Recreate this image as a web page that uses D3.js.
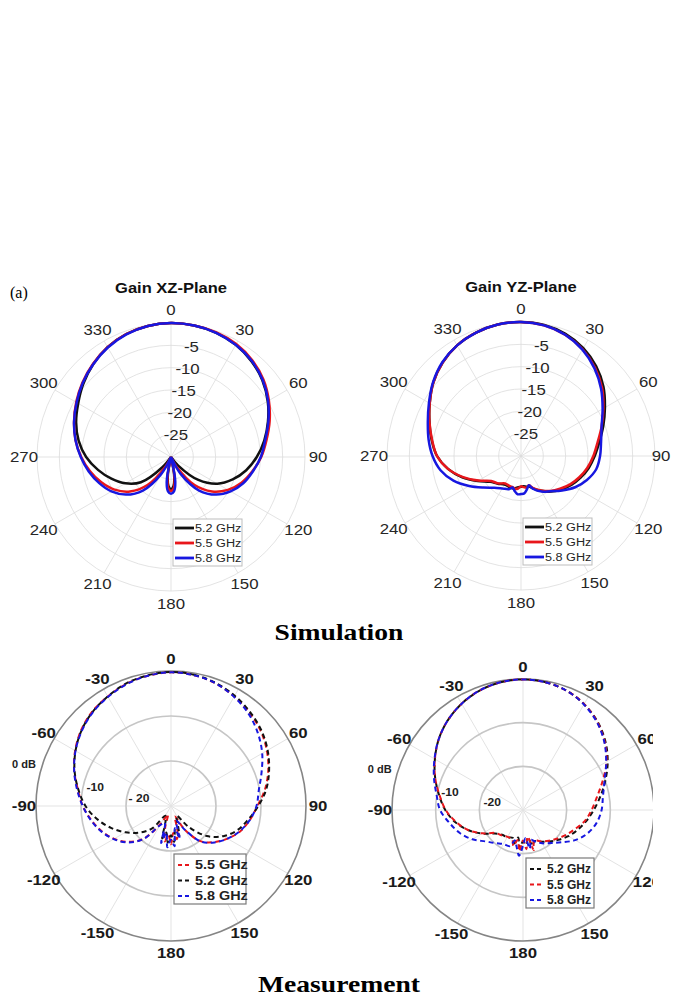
<!DOCTYPE html>
<html lang="en">
<head>
<meta charset="utf-8">
<title>Gain patterns - simulation and measurement</title>
<script src="https://d3js.org/d3.v7.min.js"></script>
<style>
    body { margin: 0; background: #fff; }
    svg text { font-family: "Liberation Sans", Arial, Helvetica, sans-serif; }
    svg text.serif { font-family: "Liberation Serif", "Times New Roman", serif; }
</style>
</head>
<body>
<div id="canvas"></div>
<script>
    // angles (deg, clockwise from top) shared by all series
    var simAngles = [0,10,20,30,40,50,60,70,80,90,100,110,120,130,140,150,160,165,170,175,180,185,190,195,200,210,220,230,240,250,260,270,280,290,300,310,320,330,340,350];
    var measAngles = [0,10,20,30,40,50,60,70,80,90,100,110,120,130,140,150,160,165,170,175,180,185,190,195,200,210,220,230,240,250,260,270,280,290,300,310,320,330,340,350];

    var simThetaLabels = ["0","30","60","90","120","150","180","210","240","270","300","330"];
    var measThetaLabels = ["0","30","60","90","120","150","180","-150","-120","-90","-60","-30"];
    var simRings = [-25,-20,-15,-10,-5,0];
    var simRingLabels = ["-25","-20","-15","-10","-5"];
    var measRings = [-20,-10];
    var measRingLabelsXZ = ["0 dB","-10","- 20"];
    var measRingLabelsYZ = ["0 dB","-10","-20"];

    // simulation, XZ plane (dB)
    var xz52 = [0,-0.1,-0.4,-1.0,-2.0,-3.3,-5.0,-6.9,-8.8,-10.8,-12.9,-15.3,-18.0,-22.0,-27.5,-33,-36,-33,-26,-23.5,-22.8,-23.5,-26,-33,-36,-33,-27,-21.2,-18.2,-15.8,-13.4,-11.0,-9.0,-7.4,-6.0,-4.4,-2.9,-1.6,-0.7,-0.2];
    var xz55 = [0,-0.1,-0.3,-0.8,-1.7,-3.0,-4.7,-6.5,-8.3,-9.8,-11.5,-13.2,-15.3,-18.0,-21.8,-27.5,-34,-33,-25.5,-23.0,-22.4,-23.0,-25.5,-33,-34,-27.5,-21.8,-18.0,-15.4,-13.4,-11.6,-9.9,-8.3,-6.9,-5.5,-4.1,-2.8,-1.6,-0.7,-0.2];
    var xz58 = [0,-0.1,-0.4,-1.0,-1.9,-3.2,-4.9,-6.8,-8.6,-9.9,-11.4,-12.8,-14.6,-16.9,-20.2,-25.5,-33,-32,-24.5,-22.3,-21.8,-22.3,-24.5,-32,-33,-25.5,-20.2,-16.9,-14.6,-12.9,-11.3,-9.8,-8.3,-6.9,-5.6,-4.2,-2.9,-1.7,-0.8,-0.2];

    // simulation, YZ plane (dB)
    var yz52 = [0,-0.2,-0.9,-2.1,-3.8,-5.9,-8.3,-10.4,-12.2,-13.5,-14.6,-15.8,-17.0,-18.3,-19.6,-21.0,-22.3,-22.9,-23.0,-23.2,-23.1,-23.0,-22.7,-22.5,-22.6,-22.6,-21.9,-21.0,-18.8,-16.0,-13.4,-11.2,-9.7,-8.2,-6.4,-4.4,-2.7,-1.4,-0.6,-0.1];
    var yz55 = [0,-0.3,-1.1,-2.4,-4.2,-6.3,-8.7,-10.8,-12.6,-13.8,-14.9,-16.1,-17.3,-18.6,-19.8,-21.1,-22.4,-23.2,-22.8,-23.0,-23.2,-22.7,-22.5,-22.8,-22.8,-22.9,-22.0,-21.3,-19.0,-16.2,-13.4,-11.2,-9.8,-8.2,-6.4,-4.4,-2.7,-1.4,-0.6,-0.1];
    var yz58 = [0,-0.3,-1.1,-2.5,-4.4,-6.6,-8.9,-10.8,-11.8,-12.3,-12.9,-14.3,-16.0,-18.0,-19.7,-20.8,-22.2,-23.2,-22.4,-21.6,-21.5,-21.4,-22.0,-22.7,-22.1,-21.6,-20.7,-19.0,-16.6,-13.9,-11.7,-10.2,-9.0,-7.8,-6.2,-4.3,-2.6,-1.4,-0.6,-0.1];

    // measurement, XZ plane (dB)
    var mxz55 = [-0.3,-0.5,-1.0,-1.9,-2.9,-4.0,-5.4,-7.0,-8.8,-10.8,-12.2,-13.6,-15.5,-17.5,-19.8,-24.0,-27.5,-24.5,-22.5,-24.0,-21.5,-23.5,-22.0,-25.0,-28.0,-25.5,-20.5,-17.6,-15.4,-13.6,-12.0,-10.4,-9.0,-7.1,-5.4,-3.9,-2.7,-1.9,-1.1,-0.6];
    var mxz52 = [-0.2,-0.4,-0.9,-1.7,-2.7,-3.8,-5.2,-6.8,-8.5,-10.6,-12.6,-14.3,-16.6,-19.6,-24.0,-27.5,-25.5,-23.0,-24.5,-22.0,-23.5,-21.8,-24.0,-22.5,-26.5,-27.5,-23.5,-20.8,-18.3,-15.8,-13.3,-11.0,-9.1,-7.2,-5.5,-4.0,-2.8,-1.9,-1.0,-0.5];
    var mxz58 = [-0.3,-0.5,-1.0,-2.0,-3.2,-4.8,-6.6,-8.6,-10.2,-11.0,-12.2,-13.7,-15.5,-17.4,-19.7,-24.0,-26.5,-22.5,-25.0,-21.0,-22.5,-20.8,-24.0,-21.5,-26.0,-25.0,-20.4,-17.4,-15.3,-13.5,-11.9,-10.4,-8.8,-7.1,-5.5,-4.1,-2.9,-2.0,-1.2,-0.6];

    // measurement, YZ plane (dB)
    var myz52 = [-0.1,-0.3,-0.9,-2.0,-3.5,-5.4,-7.6,-9.9,-12.0,-13.8,-15.3,-16.7,-18.0,-19.4,-20.6,-21.6,-22.4,-21.5,-23.5,-22.0,-22.8,-21.2,-23.6,-22.0,-23.2,-22.8,-22.6,-21.6,-19.2,-16.6,-14.2,-12.2,-10.5,-8.6,-6.7,-4.8,-3.2,-1.9,-0.9,-0.3];
    var myz55 = [-0.1,-0.3,-0.9,-2.0,-3.6,-5.6,-7.9,-10.6,-12.8,-14.3,-15.6,-17.3,-18.6,-19.8,-20.8,-21.7,-22.6,-20.5,-23.8,-21.0,-23.0,-20.5,-23.0,-21.5,-22.8,-22.9,-22.4,-21.8,-19.3,-16.6,-14.4,-12.3,-10.6,-8.6,-6.7,-4.8,-3.2,-1.9,-0.9,-0.3];
    var myz58 = [-0.1,-0.3,-0.9,-2.1,-3.7,-5.7,-8.0,-10.1,-11.4,-12.0,-12.9,-14.3,-16.2,-18.5,-20.1,-21.2,-22.4,-22.9,-21.0,-23.5,-21.8,-19.5,-21.5,-22.8,-21.2,-21.0,-20.1,-18.8,-16.6,-14.6,-12.9,-11.0,-9.9,-8.3,-6.6,-4.8,-3.2,-1.9,-0.9,-0.3];

    var RED = "#e8161b", BLUE = "#1717e0", BLACK = "#111";

    var W = 675, H = 998;
    var svg = d3.select("#canvas").append("svg")
        .attr("width", W)
        .attr("height", H)
        .style("background", "#fff");

    var rad = Math.PI / 180;

    // text placed with a horizontal stretch (the source figure is a bit wide)
    function label(g, x, y, txt, size, weight, sx, fill, anchor) {
        return g.append("text")
            .attr("transform", "translate(" + x + "," + y + ") scale(" + sx + ",1)")
            .attr("text-anchor", anchor || "middle")
            .attr("dominant-baseline", "central")
            .style("font-size", size + "px")
            .style("font-weight", weight)
            .attr("fill", fill)
            .text(txt);
    }

    function simChart(cx, cy, title, series) {
        var R = 134;
        var r = d3.scaleLinear().domain([-30, 0]).range([0, R]).clamp(true);
        var g = svg.append("g").attr("transform", "translate(" + cx + "," + cy + ")");

        g.selectAll(".ring").data(simRings).enter().append("circle")
            .attr("r", function(d) { return r(d); })
            .attr("fill", "none")
            .attr("stroke", "#dcdcdc")
            .attr("stroke-width", 0.8);

        g.selectAll(".spoke").data(d3.range(0, 360, 30)).enter().append("line")
            .attr("x2", function(d) { return R * Math.sin(d * rad); })
            .attr("y2", function(d) { return -R * Math.cos(d * rad); })
            .attr("stroke", "#dcdcdc")
            .attr("stroke-width", 0.8);

        simThetaLabels.forEach(function(t, i) {
            var a = i * 30 * rad;
            var x = (R + 13) * Math.sin(a);
            // keep the label inside the page
            x = Math.min(x, W - cx - 14);
            label(g, x, -(R + 13) * Math.cos(a), t, 14, "normal", 1.2, "#262626");
        });

        simRingLabels.forEach(function(t, i) {
            var rr = r(simRings[i]);
            label(g, rr * Math.sin(10 * rad) + 1, -rr * Math.cos(10 * rad), t, 14, "normal", 1.2, "#262626");
        });

        var line = d3.lineRadial()
            .angle(function(d) { return d[0] * rad; })
            .radius(function(d) { return r(d[1]); })
            .curve(d3.curveCatmullRomClosed.alpha(0.5));

        series.forEach(function(s) {
            g.append("path")
                .datum(simAngles.map(function(a, i) { return [a, s.values[i]]; }))
                .attr("d", line)
                .attr("fill", "none")
                .attr("stroke", s.color)
                .attr("stroke-width", 2.5);
        });

        label(g, 0, -169, title, 14, "bold", 1.18, "#111");

        // legend
        var lg = g.append("g").attr("transform", "translate(2,62)");
        lg.append("rect")
            .attr("width", 69).attr("height", 47)
            .attr("fill", "#fff").attr("stroke", "#bdbdbd").attr("stroke-width", 1);
        series.forEach(function(s, i) {
            var y = 9 + i * 15;
            lg.append("line")
                .attr("x1", 2).attr("x2", 21).attr("y1", y).attr("y2", y)
                .attr("stroke", s.color).attr("stroke-width", 2.8);
            label(lg, 22, y, s.name, 11.5, "normal", 1.1, "#262626", "start");
        });
    }

    function measChart(cx, cy, R, series, ringLabels, legendSx, legendW, clipX) {
        var r = d3.scaleLinear().domain([-30, 0]).range([0, R]).clamp(true);
        var outer = svg.append("g");
        if (clipX) {
            var id = "clip" + cx;
            svg.append("clipPath").attr("id", id)
                .append("rect").attr("x", 0).attr("y", 0).attr("width", clipX).attr("height", H);
            outer.attr("clip-path", "url(#" + id + ")");
        }
        var g = outer.append("g").attr("transform", "translate(" + cx + "," + cy + ")");

        g.selectAll(".spoke").data(d3.range(0, 360, 30)).enter().append("line")
            .attr("x2", function(d) { return R * Math.sin(d * rad); })
            .attr("y2", function(d) { return -R * Math.cos(d * rad); })
            .attr("stroke", "#e3e3e3")
            .attr("stroke-width", 1);

        g.selectAll(".ring").data(measRings).enter().append("circle")
            .attr("r", function(d) { return r(d); })
            .attr("fill", "none")
            .attr("stroke", "#c6c6c6")
            .attr("stroke-width", 1.6);

        g.append("circle").attr("r", R)
            .attr("fill", "none").attr("stroke", "#858585").attr("stroke-width", 1.6);

        measThetaLabels.forEach(function(t, i) {
            var a = i * 30 * rad;
            label(g, (R + 12) * Math.sin(a), -(R + 12) * Math.cos(a), t, 15, "bold", 1.12, "#1a1a1a");
        });

        // ring labels on the left
        [0, -10, -20].forEach(function(v, i) {
            var rr = v === 0 ? R + 18 : r(v) - 12;
            var a = (v === 0 ? 286 : 284) * rad;
            label(g, rr * Math.sin(a), -rr * Math.cos(a), ringLabels[i], v === 0 ? 10 : 11, "bold", 1.1, "#222");
        });

        var line = d3.lineRadial()
            .angle(function(d) { return d[0] * rad; })
            .radius(function(d) { return r(d[1]); })
            .curve(d3.curveCatmullRomClosed.alpha(0.5));

        series.forEach(function(s) {
            g.append("path")
                .datum(measAngles.map(function(a, i) { return [a, s.values[i]]; }))
                .attr("d", line)
                .attr("fill", "none")
                .attr("stroke", s.color)
                .attr("stroke-width", 2)
                .attr("stroke-dasharray", "5,3.5");
        });

        // legend
        var lg = g.append("g").attr("transform", "translate(3,48)");
        lg.append("rect")
            .attr("width", legendW).attr("height", 50)
            .attr("fill", "#fff").attr("stroke", "#7a7a7a").attr("stroke-width", 1.2);
        series.forEach(function(s, i) {
            var y = 11 + i * 15.5;
            lg.append("line")
                .attr("x1", 4).attr("x2", 18).attr("y1", y).attr("y2", y)
                .attr("stroke", s.color).attr("stroke-width", 2)
                .attr("stroke-dasharray", "4,3");
            label(lg, 21, y, s.name, 12, "bold", legendSx, "#222", "start");
        });
    }

    simChart(171, 457, "Gain XZ-Plane", [
        {name: "5.2 GHz", color: BLACK, values: xz52},
        {name: "5.5 GHz", color: RED, values: xz55},
        {name: "5.8 GHz", color: BLUE, values: xz58}
    ]);
    simChart(521, 456, "Gain YZ-Plane", [
        {name: "5.2 GHz", color: BLACK, values: yz52},
        {name: "5.5 GHz", color: RED, values: yz55},
        {name: "5.8 GHz", color: BLUE, values: yz58}
    ]);

    measChart(171, 806, 135, [
        {name: "5.5 GHz", color: RED, values: mxz55},
        {name: "5.2 GHz", color: BLACK, values: mxz52},
        {name: "5.8 GHz", color: BLUE, values: mxz58}
    ], measRingLabelsXZ, 1.2, 72, null);
    measChart(523, 810, 131, [
        {name: "5.2 GHz", color: BLACK, values: myz52},
        {name: "5.5 GHz", color: RED, values: myz55},
        {name: "5.8 GHz", color: BLUE, values: myz58}
    ], measRingLabelsYZ, 1.0, 68, 653);

    // panel marks and captions
    label(svg, 10, 292, "(a)", 16, "normal", 1, "#000", "start").attr("class", "serif");
    label(svg, 339, 632, "Simulation", 24, "bold", 1.15, "#000").attr("class", "serif");
    label(svg, 339, 984, "Measurement", 24, "bold", 1.15, "#000").attr("class", "serif");
</script>
</body>
</html>
